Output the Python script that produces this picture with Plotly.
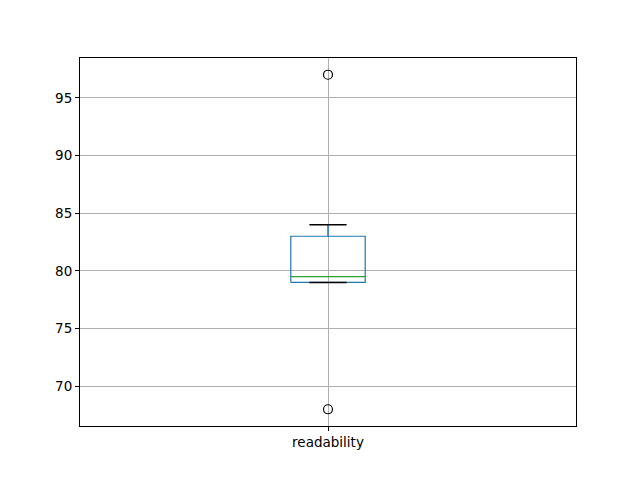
import plotly.graph_objects as go

# data
categories = ["readability"]
q1 = [79.0]
median = [79.5]
q3 = [83.0]
whisker_low = [79.0]
whisker_high = [84.0]
outliers = [[68.0, 97.0]]
yticks = [70, 75, 80, 85, 90, 95]

BOX_W = 0.15
CAP_W = BOX_W / 2
BLUE = "#1f77b4"
GREEN = "#2ca02c"

fig = go.Figure()
for i, cat in enumerate(categories):
    pos = i + 1
    hw = BOX_W / 2
    cw = CAP_W / 2
    # whiskers
    fig.add_trace(go.Scatter(x=[pos, pos], y=[q1[i], whisker_low[i]], mode="lines",
                             line=dict(color=BLUE, width=1.5), hoverinfo="skip"))
    fig.add_trace(go.Scatter(x=[pos, pos], y=[q3[i], whisker_high[i]], mode="lines",
                             line=dict(color=BLUE, width=1.5), hoverinfo="skip"))
    # box
    fig.add_trace(go.Scatter(x=[pos - hw, pos + hw, pos + hw, pos - hw, pos - hw],
                             y=[q1[i], q1[i], q3[i], q3[i], q1[i]], mode="lines",
                             line=dict(color=BLUE, width=1.2), hoverinfo="skip"))
    # caps
    fig.add_trace(go.Scatter(x=[pos - cw, pos + cw], y=[whisker_low[i]] * 2, mode="lines",
                             line=dict(color="black", width=1.5), hoverinfo="skip"))
    fig.add_trace(go.Scatter(x=[pos - cw, pos + cw], y=[whisker_high[i]] * 2, mode="lines",
                             line=dict(color="black", width=1.5), hoverinfo="skip"))
    # median
    fig.add_trace(go.Scatter(x=[pos - hw, pos + hw], y=[median[i]] * 2, mode="lines",
                             line=dict(color=GREEN, width=1.2), hoverinfo="skip"))
    # outliers
    fig.add_trace(go.Scatter(x=[pos] * len(outliers[i]), y=outliers[i], mode="markers",
                             marker=dict(symbol="circle-open", size=9, color="black",
                                         line=dict(width=1.2, color="black")),
                             hoverinfo="skip"))

ymin = min(min(o) for o in outliers)
ymax = max(max(o) for o in outliers)
pad = (ymax - ymin) * 0.05

font = dict(family="DejaVu Sans", size=13.5, color="black")
fig.update_layout(
    width=640, height=480,
    margin=dict(l=72, r=72, t=50, b=62),
    paper_bgcolor="white", plot_bgcolor="white",
    showlegend=False, font=font,
    xaxis=dict(range=[0.5, len(categories) + 0.5],
               tickvals=[i + 1 for i in range(len(categories))], ticktext=categories,
               showgrid=True, gridcolor="#b0b0b0", gridwidth=1,
               showline=True, linecolor="black", linewidth=1, mirror=True,
               ticks="outside", ticklen=4, tickcolor="black", zeroline=False),
    yaxis=dict(range=[ymin - pad, ymax + pad], tickvals=yticks,
               showgrid=True, gridcolor="#b0b0b0", gridwidth=1,
               showline=True, linecolor="black", linewidth=1, mirror=True,
               ticks="outside", ticklen=4, tickcolor="black", zeroline=False),
)

fig.write_html("out.html")
